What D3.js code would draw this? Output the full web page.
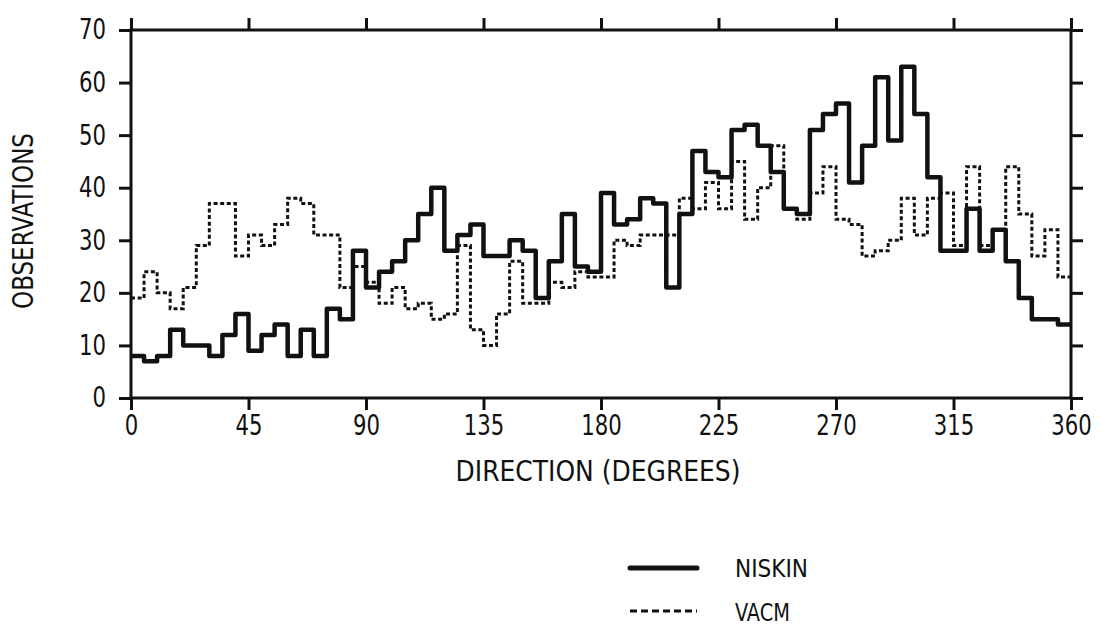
<!DOCTYPE html>
<html><head><meta charset="utf-8">
<script src="https://cdn.jsdelivr.net/npm/d3@7/dist/d3.min.js"></script>
<style>body{margin:0;background:#fff}svg{display:block}</style>
</head><body><svg id="c" width="1116" height="630"></svg>
<script>
// Direction bins (degrees, start of each 5-degree bin)
const directions = [0,5,10,15,20,25,30,35,40,45,50,55,60,65,70,75,80,85,90,95,100,105,110,115,
  120,125,130,135,140,145,150,155,160,165,170,175,180,185,190,195,200,205,210,215,220,225,230,235,
  240,245,250,255,260,265,270,275,280,285,290,295,300,305,310,315,320,325,330,335,340,345,350,355];
const niskin = [8,7,8,13,10,10,8,12,16,9,12,14,8,13,8,17,15,28,21,24,26,30,35,40,
  28,31,33,27,27,30,28,19,26,35,25,24,39,33,34,38,37,21,35,47,43,42,51,52,
  48,43,36,35,51,54,56,41,48,61,49,63,54,42,28,28,36,28,32,26,19,15,15,14];
const vacm = [19,24,20,17,21,29,37,37,27,31,29,33,38,37,31,31,21,25,22,18,21,17,18,15,
  16,29,13,10,16,26,18,18,22,21,24,23,23,30,29,31,31,31,38,36,41,36,45,34,
  40,48,36,34,39,44,34,33,27,28,30,38,31,38,39,29,44,29,32,44,35,27,32,23];
const xTicks = [0,45,90,135,180,225,270,315,360];
const yTicks = [0,10,20,30,40,50,60,70];
const seriesNames = ["NISKIN","VACM"];

const FONT = "'DejaVu Sans Condensed','Liberation Sans Narrow',sans-serif";
const INK = "#111";
const svg = d3.select("#c");
const x = d3.scaleLinear().domain([0,360]).range([131,1071]);
const y = d3.scaleLinear().domain([0,70]).range([398,30]);
const TL = 12;
const DIGIT_W = 13.5;

const g = svg.append("g");
g.append("rect").attr("x",x(0)).attr("y",y(70)).attr("width",x(360)-x(0)).attr("height",y(0)-y(70))
  .attr("fill","none").attr("stroke",INK).attr("stroke-width",3);

function styleAxis(sel){
  sel.select(".domain").remove();
  sel.selectAll(".tick line").attr("stroke",INK).attr("stroke-width",3);
  sel.selectAll(".tick text").attr("font-family",FONT).attr("font-size",28).attr("fill",INK)
    .attr("textLength",d=>String(d).length*DIGIT_W).attr("lengthAdjust","spacingAndGlyphs");
}
const axB = g.append("g").attr("transform",`translate(0,${y(0)})`)
  .call(d3.axisBottom(x).tickValues(xTicks).tickSize(TL).tickPadding(5));
styleAxis(axB);

const axT = g.append("g").attr("transform",`translate(0,${y(70)})`)
  .call(d3.axisTop(x).tickValues(xTicks).tickSize(TL).tickFormat(""));
styleAxis(axT);

const axL = g.append("g").attr("transform",`translate(${x(0)},0)`)
  .call(d3.axisLeft(y).tickValues(yTicks).tickSize(TL).tickPadding(13));
styleAxis(axL);

const axR = g.append("g").attr("transform",`translate(${x(360)},0)`)
  .call(d3.axisRight(y).tickValues(yTicks).tickSize(TL).tickFormat(""));
styleAxis(axR);

function stepPts(vals){
  const pts = directions.map((d,i)=>[d,vals[i]]);
  pts.push([360, vals[vals.length-1]]);
  return pts;
}
const line = d3.line().x(d=>x(d[0])).y(d=>y(d[1])).curve(d3.curveStepAfter);
g.append("path").datum(stepPts(vacm)).attr("d",line).attr("fill","none")
  .attr("stroke",INK).attr("stroke-width",3).attr("stroke-dasharray","4,2.6");
g.append("path").datum(stepPts(niskin)).attr("d",line).attr("fill","none")
  .attr("stroke",INK).attr("stroke-width",4.5).attr("stroke-linejoin","round");

g.append("text").attr("x",598).attr("y",481).attr("text-anchor","middle")
  .attr("font-family",FONT).attr("font-size",28).attr("fill",INK)
  .attr("textLength",285).attr("lengthAdjust","spacingAndGlyphs")
  .text("DIRECTION (DEGREES)");
g.append("text").attr("transform","translate(33,221) rotate(-90)").attr("text-anchor","middle")
  .attr("font-family",FONT).attr("font-size",28).attr("fill",INK)
  .attr("textLength",176).attr("lengthAdjust","spacingAndGlyphs")
  .text("OBSERVATIONS");

const leg = g.append("g");
leg.append("line").attr("x1",630).attr("x2",697).attr("y1",568).attr("y2",568)
  .attr("stroke",INK).attr("stroke-width",5).attr("stroke-linecap","round");
leg.append("line").attr("x1",630).attr("x2",697).attr("y1",611).attr("y2",611)
  .attr("stroke",INK).attr("stroke-width",3).attr("stroke-dasharray","7,4");
leg.selectAll("text.l").data(seriesNames).enter().append("text")
  .attr("x",735).attr("y",(d,i)=>[577,621][i])
  .attr("font-family",FONT).attr("font-size",25).attr("fill",INK)
  .attr("textLength",(d,i)=>[73,55][i]).attr("lengthAdjust","spacingAndGlyphs")
  .text(d=>d);
</script></body></html>
